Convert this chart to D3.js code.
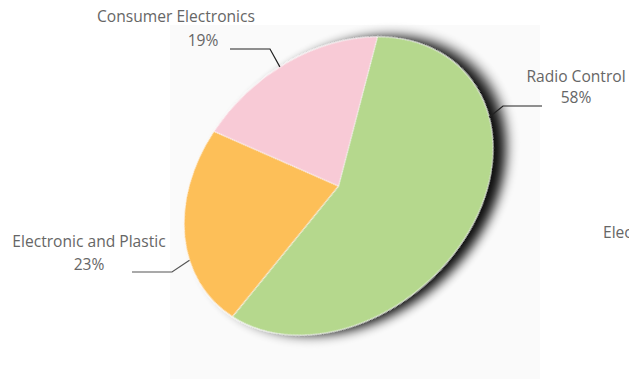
<!DOCTYPE html>
<html>
<head>
<meta charset="utf-8">
<script src="https://cdn.jsdelivr.net/npm/d3@7"></script>
<style>
  body { margin: 0; background: #fff; }
  svg { display: block; }
</style>
</head>
<body>
<svg id="chart"></svg>
<script>
    // Chart size
    const width = 629;
    const height = 379;

    // Data
    const categories = ["Radio Control", "Electronic and Plastic", "Consumer Electronics"];
    const shares = [58, 23, 19];
    const colors = ["#b5d88d", "#fdbf58", "#f8cad6"];

    // Pie geometry (tilted ellipse)
    const cx = 338.5, cy = 186;
    const rx = 170, ry = 131, tilt = -41;
    const start = 48.4 * Math.PI / 180;

    // Label layout: text position, elbow, and the angle where the leader meets the pie
    const labelPos = [
        { x: 576, y1: 82, y2: 103, lx: 542, ly: 106, ex: 503, anchor: 111 },
        { x: 89, y1: 247, y2: 270, lx: 132, ly: 272, ex: 172, anchor: 288.6 },
        { x: 176, y1: 22, y2: 46, x2: 203, lx: 230, ly: 49, ex: 270, anchor: 11.5 }
    ];

    const svg = d3.select("#chart")
        .attr("width", width)
        .attr("height", height);

    const defs = svg.append("defs");
    const filter = defs.append("filter")
        .attr("id", "shadow")
        .attr("x", "-20%").attr("y", "-20%")
        .attr("width", "150%").attr("height", "150%");
    filter.append("feGaussianBlur").attr("in", "SourceAlpha").attr("stdDeviation", 7);
    filter.append("feOffset").attr("dx", 10).attr("dy", 10).attr("result", "off");
    filter.append("feComponentTransfer").append("feFuncA").attr("type", "linear").attr("slope", 0.95);
    const merge = filter.append("feMerge");
    merge.append("feMergeNode");
    merge.append("feMergeNode").attr("in", "SourceGraphic");

    // faint panel behind the pie
    svg.append("rect")
        .attr("x", 170).attr("y", 25)
        .attr("width", 370).attr("height", height - 25)
        .attr("fill", "#fafafa");

    const pie = d3.pie().sort(null).startAngle(start).endAngle(start + 2 * Math.PI);
    const arcs = pie(shares);
    const arc = d3.arc().innerRadius(0).outerRadius(rx);

    const g = svg.append("g")
        .attr("transform", `translate(${cx},${cy}) rotate(${tilt}) scale(1,${ry / rx})`);

    const slices = g.append("g").attr("filter", "url(#shadow)");
    slices.selectAll("path")
        .data(arcs)
        .join("path")
        .attr("d", arc)
        .attr("fill", (d, i) => colors[i])
        .attr("stroke", "#ffffff")
        .attr("stroke-width", 0.6)
        .attr("vector-effect", "non-scaling-stroke");

    // map a pie angle (degrees) on the rim to page coordinates
    function rim(deg) {
        const a = deg * Math.PI / 180;
        const lx = rx * Math.sin(a);
        const ly = -rx * Math.cos(a) * ry / rx;
        const t = tilt * Math.PI / 180;
        return [cx + lx * Math.cos(t) - ly * Math.sin(t), cy + lx * Math.sin(t) + ly * Math.cos(t)];
    }

    const labels = svg.append("g")
        .attr("font-family", "'Open Sans', 'Noto Sans', sans-serif")
        .attr("font-size", 15.6)
        .attr("fill", "#666")
        .attr("text-anchor", "middle");

    labelPos.forEach((p, i) => {
        const end = rim(p.anchor);
        svg.append("path")
            .attr("d", d3.line()([[p.lx, p.ly], [p.ex, p.ly], end]))
            .attr("fill", "none")
            .attr("stroke", i === 1 ? "#555" : "#222")
            .attr("stroke-width", 1.2);
        labels.append("text")
            .attr("x", p.x).attr("y", p.y1)
            .text(categories[i]);
        labels.append("text")
            .attr("x", p.x2 || p.x).attr("y", p.y2)
            .text(shares[i] + "%");
    });

    // label of a further category, cut off at the right edge as in the source
    labels.append("text")
        .attr("x", 603).attr("y", 238)
        .attr("text-anchor", "start")
        .text("Electrical");
</script>
</body>
</html>
